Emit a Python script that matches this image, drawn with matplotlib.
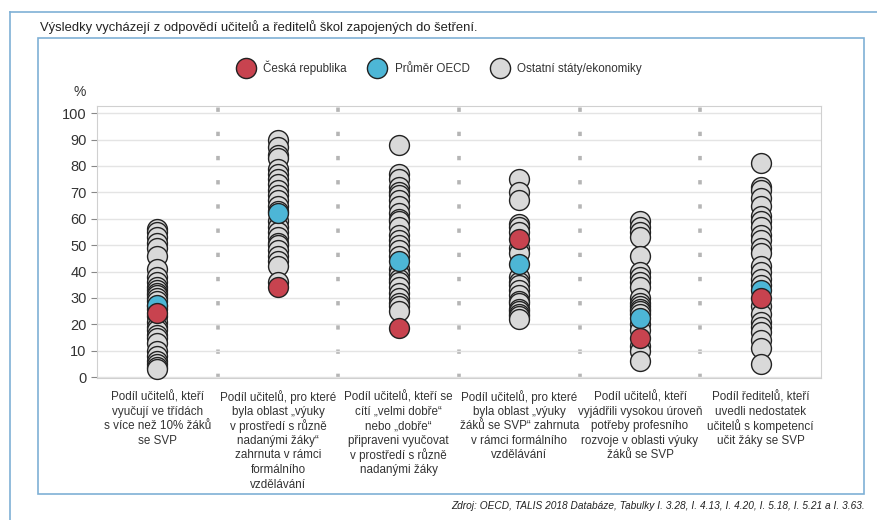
import numpy as np
import matplotlib.pyplot as plt
from matplotlib.patches import Rectangle
from matplotlib.lines import Line2D

plt.rcParams['font.family'] = ['Liberation Sans', 'DejaVu Sans']

categories = [
    "Podíl učitelů, kteří\nvyučují ve třídách\ns více než 10% žáků\nse SVP",
    "Podíl učitelů, pro které\nbyla oblast „výuky\nv prostředí s různě\nnadanými žáky“\nzahrnuta v rámci\nformálního\nvzdělávání",
    "Podíl učitelů, kteří se\ncítí „velmi dobře“\nnebo „dobře“\npřipraveni vyučovat\nv prostředí s různě\nnadanými žáky",
    "Podíl učitelů, pro které\nbyla oblast „výuky\nžáků se SVP“ zahrnuta\nv rámci formálního\nvzdělávání",
    "Podíl učitelů, kteří\nvyjádřili vysokou úroveň\npotřeby profesního\nrozvoje v oblasti výuky\nžáků se SVP",
    "Podíl ředitelů, kteří\nuvedli nedostatek\nučitelů s kompetencí\nučit žáky se SVP",
]

others = [
    [56, 55, 53, 51, 49, 46, 41, 38, 36, 34, 33, 32, 31, 30, 29, 27, 26, 23, 21, 19, 18, 16, 15, 13, 10, 8, 6, 5, 4, 3],
    [90, 87, 84, 83, 79, 77, 75, 73, 71, 69, 67, 65, 63, 59, 57, 55, 53, 51, 50, 48, 46, 44, 42, 36],
    [88, 77, 75, 72, 70, 69, 67, 65, 62, 60, 59, 57, 54, 52, 50, 48, 46, 41, 39, 37, 36, 34, 32, 30, 28, 27, 25],
    [75, 70, 67, 58, 57, 55, 49, 47, 38, 36, 35, 33, 31, 29, 28, 26, 25, 24, 23, 22],
    [59, 57, 55, 53, 46, 40, 38, 36, 34, 30, 28, 27, 26, 25, 24, 20, 18, 12, 10, 6],
    [81, 72, 71, 68, 65, 61, 59, 57, 54, 52, 49, 47, 42, 40, 37, 35, 27, 24, 21, 19, 17, 14, 11, 5],
]
oecd = [27.5, 62, 44, 42.8, 22.5, 33]
czech = [24.5, 34, 18.5, 52.5, 15, 30]
yticks = [0, 10, 20, 30, 40, 50, 60, 70, 80, 90, 100]

c_gray = '#d9d9d9'
c_blue = '#4db6d6'
c_red = '#c8434f'
ms = 205

fig = plt.figure(figsize=(8.77, 5.2), dpi=100)
ax_h = 378 - 106
ax = fig.add_axes([97/877, 1 - 378/520, (821 - 97)/877, ax_h/520])

x = np.arange(len(categories))
for i in x:
    ax.scatter([i]*len(others[i]), others[i], s=ms, c=c_gray, edgecolors='#222222',
               linewidths=1, zorder=3, clip_on=False)
ax.scatter(x, oecd, s=ms, c=c_blue, edgecolors='#222222', linewidths=1, zorder=4, clip_on=False)
ax.scatter(x, czech, s=ms, c=c_red, edgecolors='#222222', linewidths=1, zorder=5, clip_on=False)

for i in x[:-1]:
    ax.axvline(i + 0.5, color='#b5b5b5', lw=2.6, ls=(0, (1.2, 5.5)), zorder=1)

ax.set_xlim(-0.5, len(categories) - 0.5)
ax.set_ylim(-0.3, 102.7)
ax.set_yticks(yticks)
ax.tick_params(axis='y', labelsize=10.5, colors='#888888', labelcolor='#333333', length=4, width=0.8)
ax.set_xticks([])
ax.grid(axis='y', color='#e4e4e4', lw=1, zorder=0)
for s in ax.spines.values():
    s.set_color('#d0d0d0')

# category labels, one line at a time so the spacing stays even
for i, lab in enumerate(categories):
    for j, line in enumerate(lab.split('\n')):
        y = -(397 - 378 + j * 14.6) / ax_h
        ax.text(i, y, line, transform=ax.get_xaxis_transform(), ha='center', va='center',
                fontsize=8.4, color='#333333')

fig.text(80/877, 1 - 92/520, '%', fontsize=10, color='#333333', ha='center', va='center')

handles = [
    Line2D([], [], marker='o', ls='', ms=14.5, mfc=c_red, mec='#222222', mew=1),
    Line2D([], [], marker='o', ls='', ms=14.5, mfc=c_blue, mec='#222222', mew=1),
    Line2D([], [], marker='o', ls='', ms=14.5, mfc=c_gray, mec='#222222', mew=1),
]
fig.legend(handles, ['Česká republika', 'Průměr OECD', 'Ostatní státy/ekonomiky'],
           loc='center', bbox_to_anchor=(438/877, 1 - 68/520), ncol=3, frameon=False,
           fontsize=8.4, handletextpad=0.5, columnspacing=1.6, labelcolor='#333333')

fig.text(40/877, 1 - 27/520, 'Výsledky vycházejí z odpovědí učitelů a ředitelů škol zapojených do šetření.',
         fontsize=9.4, color='#222222', ha='left', va='center')
fig.text(865/877, 1 - 506/520,
         'Zdroj: OECD, TALIS 2018 Databáze, Tabulky I. 3.28, I. 4.13, I. 4.20, I. 5.18, I. 5.21 a I. 3.63.',
         fontsize=7.3, style='italic', color='#222222', ha='right', va='center')

# frames
fig.patches.append(Rectangle((38/877, 1 - 494/520), (864 - 38)/877, (494 - 38)/520,
                             transform=fig.transFigure, fill=False, ec='#7fb0d6', lw=1.2))
fig.add_artist(Line2D([10/877, 1], [1 - 12/520, 1 - 12/520], transform=fig.transFigure,
                      color='#7fb0d6', lw=1.2))
fig.add_artist(Line2D([10/877, 10/877], [0, 1 - 12/520], transform=fig.transFigure,
                      color='#7fb0d6', lw=1.2))

fig.savefig('out.png', dpi=100)
